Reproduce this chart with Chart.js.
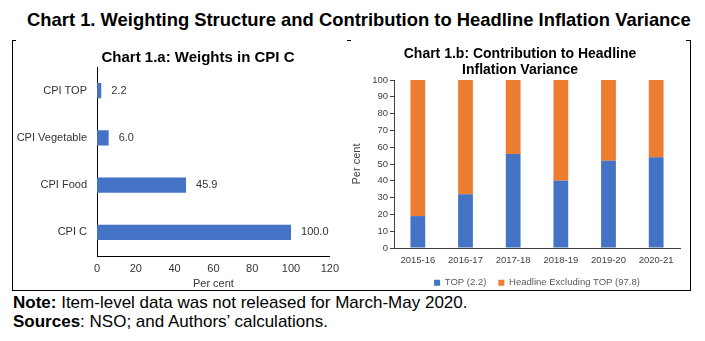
<!DOCTYPE html>
<html>
<head>
<meta charset="utf-8">
<script src="https://cdn.jsdelivr.net/npm/chart.js@4"></script>
<style>
  body { margin: 0; background: #fff; width: 705px; height: 341px; position: relative; overflow: hidden; font-family: 'Liberation Sans', Arial, sans-serif; color: #000; }
  .abs { position: absolute; }
  #mainTitle { left: 27px; top: 10px; font-size: 18.4px; font-weight: bold; line-height: 20px; white-space: nowrap; }
  #box { left: 12px; top: 40px; width: 677px; height: 250px; border: 1px solid #000; border-top: none; }
  .tick { height: 1px; background: #000; top: 40px; }
  #titleA { left: 13px; width: 370px; text-align: center; top: 48px; font-size: 15px; font-weight: bold; line-height: 18px; white-space: nowrap; }
  #titleB { left: 370px; width: 300px; text-align: center; top: 45px; font-family: 'Liberation Sans Narrow', 'Arial Narrow', sans-serif; font-size: 14px; font-weight: bold; line-height: 16px; }
  #note, #sources { left: 13px; font-size: 17px; line-height: 18px; white-space: nowrap; }
  #note { top: 294px; }
  #sources { top: 313px; }
</style>
</head>
<body>
<div id="mainTitle" class="abs">Chart 1. Weighting Structure and Contribution to Headline Inflation Variance</div>
<div id="box" class="abs"></div>
<div class="abs tick" style="left:12px;width:4px"></div>
<div class="abs tick" style="left:347px;width:4px"></div>
<div class="abs tick" style="left:686px;width:4px"></div>

<canvas id="chartA" class="abs" style="left:13px;top:41px" width="332" height="250"></canvas>
<canvas id="chartB" class="abs" style="left:350px;top:41px" width="338" height="250"></canvas>
<div id="titleA" class="abs">Chart 1.a: Weights in CPI C</div>
<div id="titleB" class="abs">Chart 1.b: Contribution to Headline<br>Inflation Variance</div>

<div id="note" class="abs"><b>Note:</b> Item-level data was not released for March-May 2020.</div>
<div id="sources" class="abs"><b>Sources</b>: NSO; and Authors’ calculations.</div>

<script>
// Chart 1.a data
const weightLabels = ['CPI TOP', 'CPI Vegetable', 'CPI Food', 'CPI C'];
const weightValues = [2.2, 6.0, 45.9, 100.0];
const weightTicks = [0, 20, 40, 60, 80, 100, 120];

// Chart 1.b data
const years = ['2015-16', '2016-17', '2017-18', '2018-19', '2019-20', '2020-21'];
const topShare = [19, 32, 56, 40, 52, 54];
const restShare = [81, 68, 44, 60, 48, 46];
const seriesNames = ['TOP (2.2)', 'Headline Excluding TOP (97.8)'];

const blue = '#4472C4';
const orange = '#ED7D31';
const arial = "'Liberation Sans', Arial, sans-serif";
const narrow = "'Liberation Sans Narrow', 'Arial Narrow', sans-serif";

// value labels next to horizontal bars
const valueLabels = {
  id: 'valueLabels',
  afterDatasetsDraw(chart) {
    const ctx = chart.ctx;
    const meta = chart.getDatasetMeta(0);
    ctx.save();
    ctx.font = '11px ' + arial;
    ctx.fillStyle = '#333';
    ctx.textBaseline = 'middle';
    meta.data.forEach((bar, i) => {
      ctx.fillText(chart.data.datasets[0].data[i].toFixed(1), bar.x + 10, bar.y);
    });
    ctx.restore();
  }
};

new Chart(document.getElementById('chartA').getContext('2d'), {
  type: 'bar',
  data: {
    labels: weightLabels,
    datasets: [{
      data: weightValues,
      backgroundColor: blue,
      barPercentage: 0.32,
      categoryPercentage: 1
    }]
  },
  options: {
    indexAxis: 'y',
    responsive: false,
    animation: false,
    layout: { padding: { top: 26, right: 15, left: 0, bottom: 0 } },
    plugins: { legend: { display: false }, tooltip: { enabled: false } },
    scales: {
      x: {
        min: weightTicks[0],
        max: weightTicks[weightTicks.length - 1],
        afterBuildTicks: (s) => { s.ticks = weightTicks.map(v => ({ value: v })); },
        afterFit: (s) => { s.height = 35; },
        grid: { display: false, drawTicks: false },
        border: { color: '#000' },
        ticks: { font: { size: 11, family: arial }, color: '#333', padding: 6 },
        title: { display: true, text: 'Per cent', font: { size: 11, family: arial }, color: '#333', padding: { top: 0, bottom: 0 } }
      },
      y: {
        afterFit: (s) => { s.width = 84; },
        grid: { display: false, drawTicks: false },
        border: { color: '#000' },
        ticks: { font: { size: 11, family: arial }, color: '#333', padding: 10 }
      }
    }
  },
  plugins: [valueLabels]
});

new Chart(document.getElementById('chartB').getContext('2d'), {
  type: 'bar',
  data: {
    labels: years,
    datasets: [
      { label: seriesNames[0], data: topShare, backgroundColor: blue, barPercentage: 0.31, categoryPercentage: 1 },
      { label: seriesNames[1], data: restShare, backgroundColor: orange, barPercentage: 0.31, categoryPercentage: 1 }
    ]
  },
  options: {
    responsive: false,
    animation: false,
    layout: { padding: { top: 39, right: 8, left: 0, bottom: 0 } },
    plugins: {
      tooltip: { enabled: false },
      legend: {
        position: 'bottom',
        fullSize: false,
        maxHeight: 25,
        labels: {
          boxWidth: 6, boxHeight: 6, padding: 12,
          font: { size: 9.5, family: narrow }, color: '#595959'
        }
      }
    },
    scales: {
      x: {
        stacked: true,
        afterFit: (s) => { s.height = 18; },
        grid: { display: false, drawTicks: false },
        border: { color: '#404040' },
        ticks: { font: { size: 9.5, family: narrow }, color: '#404040', padding: 7, maxRotation: 0 }
      },
      y: {
        stacked: true,
        min: 0, max: 100,
        afterFit: (s) => { s.width = 44; },
        grid: { drawOnChartArea: false, tickLength: 4, color: '#404040' },
        border: { color: '#404040' },
        ticks: { stepSize: 10, font: { size: 9.5, family: narrow }, color: '#404040', padding: 2 },
        title: { display: true, text: 'Per cent', font: { size: 11, family: narrow }, color: '#404040', padding: 0 }
      }
    }
  }
});
</script>
</body>
</html>
